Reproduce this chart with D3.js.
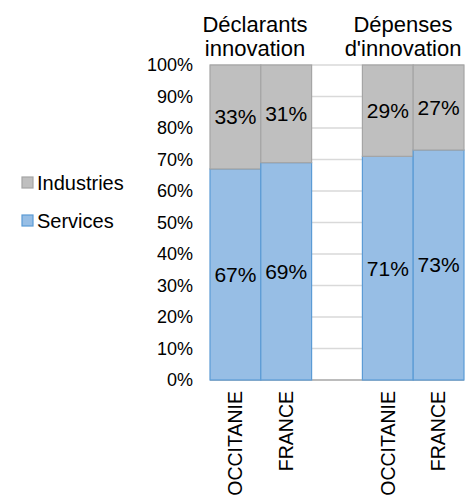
<!DOCTYPE html>
<html>
<head>
<meta charset="utf-8">
<script src="https://cdn.jsdelivr.net/npm/d3@7"></script>
<style>
  body { margin: 0; background: #fff; }
  text { font-family: "Liberation Sans", Arial, sans-serif; fill: #000; }
</style>
</head>
<body>
<svg class="chart" width="468" height="499"></svg>
<script>
var groups = [["Déclarants", "innovation"], ["Dépenses", "d'innovation"]];
var regions = ["OCCITANIE", "FRANCE"];
var services = [67, 69, 71, 73];
var industries = [33, 31, 29, 27];
var yTicks = [0, 10, 20, 30, 40, 50, 60, 70, 80, 90, 100];

window.onload = function() {
    var svg = d3.select(".chart");

    // slots: two bars, one empty slot, two bars
    var slots = ["g0-0", "g0-1", "gap", "g1-0", "g1-1"];
    var x = d3.scaleBand().domain(slots).range([210, 464]).padding(0);
    var y = d3.scaleLinear().domain([0, 100]).range([380, 65]);

    var bars = [];
    groups.forEach(function(g, gi) {
        regions.forEach(function(r, ri) {
            var i = gi * 2 + ri;
            bars.push({slot: "g" + gi + "-" + ri, region: r, services: services[i], industries: industries[i]});
        });
    });

    // gridlines
    svg.append("g").selectAll("line").data(yTicks.filter(function(d) { return d > 0; }))
        .enter().append("line")
        .attr("x1", 210).attr("x2", 464)
        .attr("y1", function(d) { return y(d); })
        .attr("y2", function(d) { return y(d); })
        .attr("stroke", "#d9d9d9")
        .attr("stroke-width", 1.3);

    // baseline
    svg.append("line")
        .attr("x1", 210).attr("x2", 464)
        .attr("y1", y(0)).attr("y2", y(0))
        .attr("stroke", "#a6a6a6")
        .attr("stroke-width", 1.5);

    // y axis labels
    svg.append("g").selectAll("text").data(yTicks)
        .enter().append("text")
        .attr("x", 193)
        .attr("y", function(d) { return y(d); })
        .attr("dy", ".35em")
        .attr("text-anchor", "end")
        .style("font-size", "18px")
        .text(function(d) { return d + "%"; });

    var bar = svg.append("g").selectAll("g").data(bars)
        .enter().append("g");

    bar.append("rect")
        .attr("x", function(d) { return x(d.slot); })
        .attr("width", x.bandwidth())
        .attr("y", function(d) { return y(d.services); })
        .attr("height", function(d) { return y(0) - y(d.services); })
        .attr("fill", "#97bee5")
        .attr("stroke", "#5b9bd5")
        .attr("stroke-width", 1.2);

    bar.append("rect")
        .attr("x", function(d) { return x(d.slot); })
        .attr("width", x.bandwidth())
        .attr("y", function(d) { return y(100); })
        .attr("height", function(d) { return y(d.services) - y(100); })
        .attr("fill", "#bfbfbf")
        .attr("stroke", "#a5a5a5")
        .attr("stroke-width", 1.2);

    bar.append("text")
        .attr("x", function(d) { return x(d.slot) + x.bandwidth() / 2; })
        .attr("y", function(d) { return y(d.services / 2); })
        .attr("dy", ".35em")
        .attr("text-anchor", "middle")
        .style("font-size", "21px")
        .text(function(d) { return d.services + "%"; });

    bar.append("text")
        .attr("x", function(d) { return x(d.slot) + x.bandwidth() / 2; })
        .attr("y", function(d) { return y(d.services + d.industries / 2); })
        .attr("dy", ".35em")
        .attr("text-anchor", "middle")
        .style("font-size", "21px")
        .text(function(d) { return d.industries + "%"; });

    // category labels (rotated)
    bar.append("text")
        .attr("transform", function(d) {
            return "translate(" + (x(d.slot) + x.bandwidth() / 2) + ",391) rotate(-90)";
        })
        .attr("dy", ".35em")
        .attr("text-anchor", "end")
        .style("font-size", "19.5px")
        .text(function(d) { return d.region; });

    // group titles
    var titleX = [255, 403];
    groups.forEach(function(g, gi) {
        g.forEach(function(line, li) {
            svg.append("text")
                .attr("x", titleX[gi])
                .attr("y", 32 + li * 24)
                .attr("text-anchor", "middle")
                .style("font-size", "22px")
                .text(line);
        });
    });

    // legend
    var legend = [["Industries", "#bfbfbf", "#a5a5a5"], ["Services", "#97bee5", "#5b9bd5"]];
    var lg = svg.append("g").selectAll("g").data(legend)
        .enter().append("g")
        .attr("transform", function(d, i) { return "translate(22," + (177 + i * 38) + ")"; });
    lg.append("rect")
        .attr("width", 11).attr("height", 11)
        .attr("fill", function(d) { return d[1]; })
        .attr("stroke", function(d) { return d[2]; })
        .attr("stroke-width", 1.2);
    lg.append("text")
        .attr("x", 15).attr("y", 5.5)
        .attr("dy", ".35em")
        .style("font-size", "20px")
        .text(function(d) { return d[0]; });
};
</script>
</body>
</html>
